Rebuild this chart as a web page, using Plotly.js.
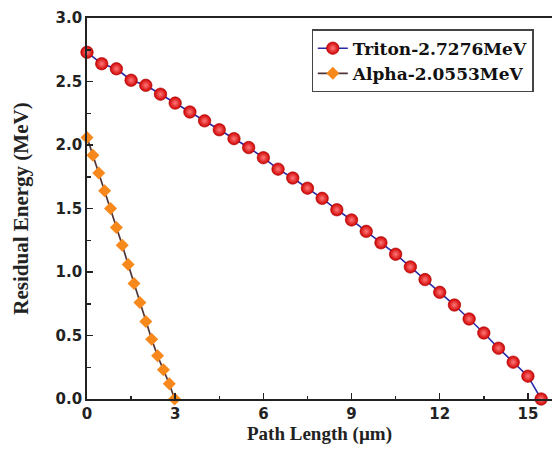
<!DOCTYPE html>
<html>
<head>
<meta charset="utf-8">
<script src="https://cdn.plot.ly/plotly-3.0.1.min.js"></script>
<style>html,body{margin:0;padding:0;background:#fff;}#chart{width:552px;height:451px;}</style>
</head>
<body>
<div id="chart"></div>
<script>
// Triton-2.7276MeV
var tritonX = [0, 0.5, 1, 1.5, 2, 2.5, 3, 3.5, 4, 4.5, 5, 5.5, 6, 6.5, 7, 7.5, 8, 8.5, 9, 9.5, 10, 10.5, 11, 11.5, 12, 12.5, 13, 13.5, 14, 14.5, 15, 15.45];
var tritonY = [2.73, 2.64, 2.60, 2.51, 2.47, 2.40, 2.33, 2.26, 2.19, 2.12, 2.05, 1.98, 1.90, 1.81, 1.74, 1.66, 1.58, 1.49, 1.41, 1.32, 1.23, 1.14, 1.04, 0.94, 0.84, 0.74, 0.63, 0.52, 0.40, 0.29, 0.18, 0.0];
// Alpha-2.0553MeV
var alphaX = [0, 0.2, 0.4, 0.6, 0.8, 1.0, 1.2, 1.4, 1.6, 1.8, 2.0, 2.2, 2.4, 2.6, 2.8, 2.98];
var alphaY = [2.06, 1.92, 1.78, 1.64, 1.50, 1.35, 1.21, 1.06, 0.91, 0.76, 0.61, 0.47, 0.34, 0.23, 0.12, 0.0];
var seriesNames = ['Triton-2.7276MeV', 'Alpha-2.0553MeV'];
var xTicks = [0, 3, 6, 9, 12, 15];
var yTicks = [0, 0.5, 1.0, 1.5, 2.0, 2.5, 3.0];
var xTitle = 'Path Length (µm)';
var yTitle = 'Residual Energy (MeV)';

var titleFont = {family: 'Liberation Serif, Times New Roman, serif', size: 20, color: '#222', weight: 'bold'};

var traces = [
  {
    x: tritonX, y: tritonY, name: seriesNames[0], type: 'scatter', mode: 'lines+markers',
    line: {color: '#2a2aa8', width: 1.6},
    marker: {symbol: 'circle', size: 12.5, color: '#d00000',
             gradient: {type: 'radial', color: '#ff7a7a'},
             line: {color: '#a80000', width: 0.6}},
    cliponaxis: false
  },
  {
    x: alphaX, y: alphaY, name: seriesNames[1], type: 'scatter', mode: 'lines+markers',
    line: {color: '#503438', width: 1.7},
    marker: {symbol: 'diamond', size: 10, color: '#f7891c', line: {width: 0}},
    cliponaxis: false
  }
];

var layout = {
  width: 552, height: 451,
  margin: {l: 87, r: 0, t: 18, b: 52},
  paper_bgcolor: '#ffffff', plot_bgcolor: '#ffffff',
  showlegend: true,
  legend: {
    x: 0.483, y: 0.97, xanchor: 'left', yanchor: 'top',
    bgcolor: '#ffffff', bordercolor: '#444444', borderwidth: 1.2,
    font: {family: 'DejaVu Serif, Liberation Serif, serif', size: 17, color: '#111', weight: 'bold'},
    tracegroupgap: 0
  },
  annotations: [{
    text: xTitle, xref: 'paper', yref: 'paper', x: 0.5, y: -0.091,
    xanchor: 'center', yanchor: 'middle', showarrow: false,
    font: {family: titleFont.family, size: 19, color: '#222', weight: 'bold'}
  }],
  xaxis: {
    range: [0, 15.82], tickvals: xTicks, ticktext: xTicks.map(String),
    showgrid: false, zeroline: false,
    showline: true, linecolor: '#222', linewidth: 1.8, mirror: true,
    ticks: 'inside', ticklen: 6, tickwidth: 1.5, tickcolor: '#222',
    minor: {dtick: 1.5, tick0: 0, ticks: 'inside', ticklen: 3.5, tickwidth: 1.5, tickcolor: '#222', showgrid: false},
    tickfont: {family: 'DejaVu Sans, Arial, sans-serif', size: 15, color: '#222', weight: 'bold'}
  },
  yaxis: {
    range: [0, 3], tickvals: yTicks, ticktext: yTicks.map(function(v){return v.toFixed(1);}),
    showgrid: false, zeroline: false,
    showline: true, linecolor: '#222', linewidth: 1.8, mirror: false,
    ticks: 'inside', ticklen: 6, tickwidth: 1.5, tickcolor: '#222',
    minor: {dtick: 0.25, tick0: 0, ticks: 'inside', ticklen: 3.5, tickwidth: 1.5, tickcolor: '#222', showgrid: false},
    tickfont: {family: 'DejaVu Sans, Arial, sans-serif', size: 15, color: '#222', weight: 'bold'},
    title: {text: yTitle, standoff: 21, font: {family: titleFont.family, size: 21, color: '#222', weight: 'bold'}}
  }
};

Plotly.newPlot('chart', traces, layout, {displayModeBar: false, staticPlot: true});
</script>
</body>
</html>
